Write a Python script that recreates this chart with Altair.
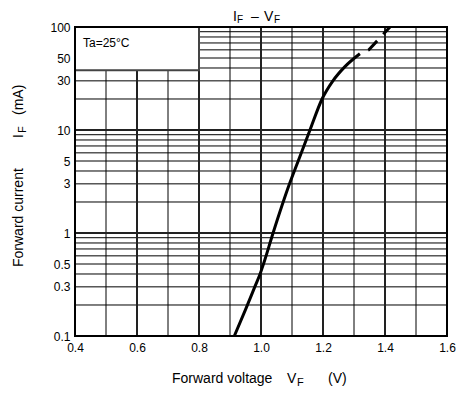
import altair as alt
import pandas as pd

# ---- data ----
vf_solid = [0.914, 0.95, 0.98, 0.997, 1.008, 1.039, 1.092, 1.12, 1.158, 1.197, 1.232, 1.27, 1.319]
if_solid = [0.1, 0.18, 0.3, 0.4, 0.5, 1, 3, 5, 10, 20, 30, 41, 55]
vf_dash = [1.319, 1.348, 1.416]
if_dash = [55, 60, 100]

x_ticks = [0.4, 0.6, 0.8, 1.0, 1.2, 1.4, 1.6]
y_ticks = [0.1, 0.3, 0.5, 1, 3, 5, 10, 30, 50, 100]
x_minor = [0.5, 0.7, 0.9, 1.1, 1.3, 1.5]
x_major = [0.6, 0.8, 1.0, 1.2, 1.4]
y_decades = [1, 10]
y_minor = [m * d for d in [0.1, 1, 10] for m in [2, 3, 4, 5, 6, 7, 8, 9]]
box = {"x1": 0.4, "x2": 0.8, "y1": 38, "y2": 100}

FONT = "Liberation Sans"
xs = alt.Scale(domain=[0.4, 1.6], nice=False, zero=False)
ys = alt.Scale(type="log", domain=[0.1, 100], nice=False)

xaxis = alt.Axis(values=x_ticks, format=".1f", grid=False, ticks=False, domain=False, labelFlush=False,
                 labelFont=FONT, labelFontSize=12, labelColor="black", labelPadding=6, title=None)
yaxis = alt.Axis(values=y_ticks, format="~g", grid=False, ticks=False, domain=False, labelFlush=False,
                 labelFont=FONT, labelFontSize=12, labelColor="black", labelPadding=5, title=None)

one = alt.InlineData(values=[{}])

minor_v = alt.Chart(pd.DataFrame({"x": x_minor})).mark_rule(color="black", strokeWidth=1).encode(
    x=alt.X("x:Q", scale=xs, axis=xaxis))
major_v = alt.Chart(pd.DataFrame({"x": x_major})).mark_rule(color="#222", strokeWidth=2).encode(
    x=alt.X("x:Q", scale=xs, axis=xaxis))
minor_h = alt.Chart(pd.DataFrame({"y": y_minor})).mark_rule(color="black", strokeWidth=1).encode(
    y=alt.Y("y:Q", scale=ys, axis=yaxis))
major_h = alt.Chart(pd.DataFrame({"y": y_decades})).mark_rule(color="#222", strokeWidth=2.2).encode(
    y=alt.Y("y:Q", scale=ys, axis=yaxis))

legend_box = alt.Chart(pd.DataFrame([box])).mark_rect(
    fill="white", stroke="#444", strokeWidth=2).encode(
    x=alt.X("x1:Q", scale=xs, axis=xaxis), x2="x2:Q",
    y=alt.Y("y1:Q", scale=ys, axis=yaxis), y2="y2:Q")

solid = alt.Chart(pd.DataFrame({"vf": vf_solid, "cur": if_solid})).mark_line(
    color="black", strokeWidth=3, interpolate="monotone").encode(
    x=alt.X("vf:Q", scale=xs, axis=xaxis),
    y=alt.Y("cur:Q", scale=ys, axis=yaxis),
    order=alt.Order("vf:Q"))

dashed = alt.Chart(pd.DataFrame({"vf": vf_dash, "cur": if_dash})).mark_line(
    color="black", strokeWidth=3, strokeDash=[13, 9], strokeDashOffset=13).encode(
    x=alt.X("vf:Q", scale=xs, axis=xaxis), y=alt.Y("cur:Q", scale=ys, axis=yaxis))

frame = alt.Chart(one).mark_rect(fill=None, stroke="black", strokeWidth=2).encode(
    x=alt.value(0), x2=alt.value(372), y=alt.value(0), y2=alt.value(309))


def txt(s, x, y, size, angle=0):
    return alt.Chart(one).mark_text(
        text=s, font=FONT, fontSize=size, color="black", align="left",
        baseline="alphabetic", angle=angle).encode(x=alt.value(x), y=alt.value(y))


texts = [
    txt("Ta=25°C", 8, 20, 12),
    # title I_F – V_F
    txt("I", 158, -6, 14), txt("F", 162, -4, 10),
    txt("–", 176, -6, 14), txt("V", 189, -6, 14), txt("F", 199, -4, 10),
    # x title
    txt("Forward voltage", 97, 356, 14), txt("V", 212, 356, 14),
    txt("F", 222, 359, 11), txt("(V)", 253, 356, 14),
    # y title
    txt("Forward current", -52, 240, 14, 270), txt("I", -52, 111, 14, 270),
    txt("F", -49, 106, 11, 270), txt("(mA)", -52, 88, 14, 270),
]

chart = alt.layer(minor_v, minor_h, major_v, major_h, legend_box, solid, dashed, frame, *texts).properties(
    width=372, height=309,
    autosize=alt.AutoSizeParams(type="none"),
    padding={"left": 67, "top": 19, "right": 17, "bottom": 60},
).configure_view(stroke=None)

chart.save("out.html", embed_options={"renderer": "svg", "actions": False})
